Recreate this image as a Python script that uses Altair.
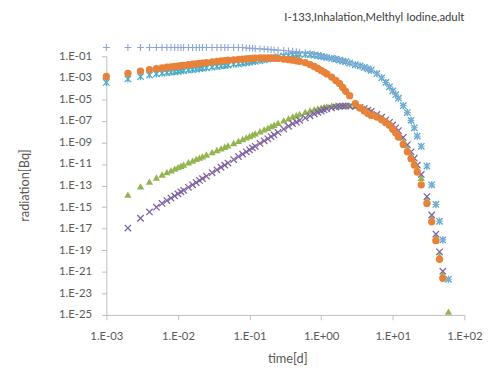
import altair as alt
import pandas as pd

# time grid [d]
time_d = [0.001, 0.002, 0.003, 0.004, 0.005, 0.006, 0.007, 0.008, 0.009,
          0.010, 0.011, 0.012, 0.014, 0.016, 0.018, 0.020, 0.022, 0.025, 0.030, 0.035, 0.040, 0.045, 0.050, 0.060, 0.070, 0.080, 0.090,
          0.10, 0.11, 0.12, 0.14, 0.16, 0.18, 0.20, 0.22, 0.25, 0.30, 0.35, 0.40, 0.45, 0.50, 0.60, 0.70, 0.80, 0.90,
          1.0, 1.1, 1.2, 1.4, 1.6, 1.8, 2.0, 2.2, 2.5, 3.0, 3.5, 4.0, 4.5, 5.0, 6.0, 7.0, 8.0, 9.0,
          10, 11, 12, 14, 16, 18, 20, 22, 25, 30, 35, 40, 45, 50, 60]

plus = [6.5e-1, 6.5e-1, 6.5e-1, 6.5e-1, 6.5e-1, 6.5e-1, 6.5e-1, 6.5e-1, 6.5e-1,
        6.5e-1, 6.5e-1, 6.5e-1, 6.5e-1, 6.5e-1, 6.5e-1, 6.5e-1, 6.5e-1, 6.5e-1, 6.5e-1, 6.5e-1, 6.5e-1, 6.5e-1, 6.5e-1, 6.5e-1, 6.5e-1, 6.5e-1, 5.9e-1,
        5.6e-1, 5.4e-1, 5.1e-1, 4.8e-1, 4.6e-1, 4.3e-1, 4.1e-1, 3.9e-1, 3.7e-1, 3.4e-1, 3.1e-1, 2.9e-1, 2.6e-1, 2.4e-1, 2.1e-1, 1.8e-1, 1.55e-1, 1.35e-1,
        1.12e-1, 9.3e-2, 7.9e-2, 6.3e-2, 5.4e-2, 4.4e-2, 3.6e-2, 3.1e-2, 2.3e-2, 1.62e-2, 1.26e-2, 9.1e-3, 6.8e-3, 5.0e-3, 2.4e-3, 1.0e-3, 3.7e-4, 1.45e-4,
        6.2e-5, 2.7e-5, 1.29e-5, 2.6e-6, 5.9e-7, 1.12e-7, 2.3e-8, 3.9e-9, 4.4e-10, 6.5e-12, 1.17e-13, 1.78e-15, 4.9e-17, 9.1e-19, 2.0e-22]

teal = [3.7e-4, 7.8e-4, 1.26e-3, 1.8e-3, 2.3e-3, 2.7e-3, 3.0e-3, 3.3e-3, 3.6e-3,
        3.9e-3, 4.3e-3, 4.7e-3, 5.2e-3, 5.9e-3, 6.5e-3, 7.1e-3, 7.8e-3, 8.5e-3, 1.0e-2, 1.12e-2, 1.26e-2, 1.38e-2, 1.5e-2, 1.8e-2, 2.0e-2, 2.3e-2, 2.5e-2,
        2.8e-2, 3.1e-2, 3.4e-2, 4.0e-2, 4.7e-2, 5.5e-2, 6.3e-2, 7.1e-2, 8.5e-2, 1.05e-1, 1.17e-1, 1.35e-1, 1.45e-1, 1.48e-1, 1.48e-1, 1.41e-1, 1.26e-1, 1.12e-1,
        9.8e-2, 8.7e-2, 7.6e-2, 6.3e-2, 5.4e-2, 4.4e-2, 3.6e-2, 3.1e-2, 2.3e-2, 1.62e-2, 1.26e-2, 9.1e-3, 6.8e-3, 5.0e-3, 2.4e-3, 1.0e-3, 3.7e-4, 1.45e-4,
        6.2e-5, 2.7e-5, 1.29e-5, 2.6e-6, 5.9e-7, 1.12e-7, 2.3e-8, 3.9e-9, 4.4e-10, 6.5e-12, 1.17e-13, 1.78e-15, 4.9e-17, 9.1e-19, 2.0e-22]

orange = [1.32e-3, 2.6e-3, 4.2e-3, 5.8e-3, 7.1e-3, 8.3e-3, 9.5e-3, 1.02e-2, 1.12e-2,
          1.23e-2, 1.32e-2, 1.45e-2, 1.62e-2, 1.82e-2, 2.0e-2, 2.2e-2, 2.3e-2, 2.6e-2, 3.0e-2, 3.4e-2, 3.6e-2, 4.0e-2, 4.3e-2, 4.7e-2, 5.2e-2, 5.5e-2, 5.8e-2,
          6.0e-2, 6.3e-2, 6.6e-2, 6.9e-2, 6.9e-2, 6.9e-2, 6.9e-2, 6.6e-2, 6.2e-2, 5.5e-2, 4.8e-2, 4.3e-2, 3.8e-2, 3.4e-2, 2.5e-2, 1.7e-2, 1.12e-2, 7.4e-3,
          4.8e-3, 3.4e-3, 2.3e-3, 1.17e-3, 5.6e-4, 3.0e-4, 1.29e-4, 5.6e-5, 2.2e-5, 4.1e-6, 1.58e-6, 8.3e-7, 4.9e-7, 3.2e-7, 2.3e-7, 1.26e-7, 6.9e-8, 4.0e-8,
          1.7e-8, 7.4e-9, 3.2e-9, 6.6e-10, 1.35e-10, 3.1e-11, 7.9e-12, 1.82e-12, 1.17e-13, 2.2e-15, 4.3e-17, 7.8e-19, 1.45e-20, 2.5e-22, None]

purple = [None, 1.15e-17, 9.3e-17, 3.6e-16, 9.8e-16, 2.2e-15, 4.1e-15, 6.9e-15, 1.1e-14,
          1.7e-14, 2.6e-14, 3.6e-14, 6.9e-14, 1.17e-13, 1.9e-13, 3.0e-13, 4.4e-13, 7.4e-13, 1.55e-12, 2.9e-12, 5.0e-12, 7.9e-12, 1.23e-11, 2.6e-11, 4.9e-11, 8.3e-11, 1.35e-10,
          2.1e-10, 3.1e-10, 4.4e-10, 8.1e-10, 1.41e-9, 2.2e-9, 3.5e-9, 5.0e-9, 8.5e-9, 1.74e-8, 3.2e-8, 5.5e-8, 7.6e-8, 1.12e-7, 1.9e-7, 3.0e-7, 4.5e-7, 6.2e-7,
          8.3e-7, 1.05e-6, 1.29e-6, 1.62e-6, 1.95e-6, 2.2e-6, 2.3e-6, 2.4e-6, 2.3e-6, 2.1e-6, 1.8e-6, 1.41e-6, 1.02e-6, 7.6e-7, 4.0e-7, 2.2e-7, 1.26e-7, 7.4e-8,
          4.2e-8, 2.3e-8, 1.26e-8, 2.9e-9, 6.0e-10, 1.35e-10, 3.5e-11, 7.9e-12, 1.07e-12, 9.5e-15, 1.86e-16, 3.2e-18, 7.2e-20, 1.15e-21, None]

green = [None, 1.45e-14, 8.3e-14, 2.3e-13, 5.6e-13, 1.07e-12, 1.74e-12, 2.6e-12, 3.8e-12,
         5.2e-12, 6.9e-12, 8.9e-12, 1.45e-11, 2.1e-11, 3.0e-11, 3.9e-11, 5.2e-11, 7.6e-11, 1.29e-10, 2.0e-10, 2.8e-10, 4.0e-10, 5.4e-10, 8.9e-10, 1.41e-9, 2.1e-9, 3.0e-9,
         4.0e-9, 5.4e-9, 6.9e-9, 1.1e-8, 1.66e-8, 2.3e-8, 3.3e-8, 4.4e-8, 6.6e-8, 1.12e-7, 1.74e-7, 2.6e-7, 3.4e-7, 4.5e-7, 6.8e-7, 9.3e-7, 1.2e-6, 1.48e-6,
         1.74e-6, 2.0e-6, 2.2e-6, 2.5e-6, 2.7e-6, 2.8e-6, 2.9e-6, 2.9e-6, 2.75e-6, 2.5e-6, 2.0e-6, 1.48e-6, 1.02e-6, 7.2e-7, 3.6e-7, 1.86e-7, 9.5e-8, 4.9e-8,
         2.3e-8, 1.12e-8, 6.0e-9, 1.38e-9, 2.8e-10, 6.5e-11, 1.66e-11, 3.8e-12, 5.1e-13, 5.0e-15, 9.3e-17, 1.7e-18, 3.2e-20, 5.9e-22, 2.0e-25]

x_ticks = [1e-3, 1e-2, 1e-1, 1e0, 1e1, 1e2]
y_ticks = [1e-25, 1e-23, 1e-21, 1e-19, 1e-17, 1e-15, 1e-13, 1e-11, 1e-9, 1e-7, 1e-5, 1e-3, 1e-1]

rows = []
for name, vals in [("green", green), ("purple", purple), ("teal", teal), ("orange", orange), ("plus", plus)]:
    for t, v in zip(time_d, vals):
        if v is not None:
            rows.append({"series": name, "t": t, "v": v})
df = pd.DataFrame(rows)

FONT = "Lato"
LBL = "#595959"
AX = "#BFBFBF"
exp_expr = "round(log(datum.value)/LN10)"
label_expr = ("'1.E' + (" + exp_expr + " < 0 ? '-' : '+') + (abs(" + exp_expr + ") < 10 ? '0' : '') + abs(" + exp_expr + ")")

x_axis = alt.Axis(values=x_ticks, labelExpr=label_expr, grid=False, title="time[d]",
                  domainColor=AX, tickColor=AX, tickSize=5, labelPadding=11,
                  labelColor=LBL, labelFont=FONT, labelFontSize=11.5, labelFlush=False,
                  titleColor=LBL, titleFont=FONT, titleFontSize=13, titleFontWeight="normal",
                  titleX=184, titleY=44, titleBaseline="middle")
y_axis = alt.Axis(values=y_ticks, labelExpr=label_expr, grid=False, title="radiation[Bq]",
                  domainColor=AX, tickColor=AX, tickSize=5, labelPadding=10,
                  labelColor=LBL, labelFont=FONT, labelFontSize=11.5, labelFlush=False,
                  titleColor=LBL, titleFont=FONT, titleFontSize=13, titleFontWeight="normal",
                  titleX=-83, titleY=131, titleAngle=270, titleBaseline="middle", titleAlign="center")

base = alt.Chart(df).encode(
    x=alt.X("t:Q", scale=alt.Scale(type="log", domain=[1e-3, 1e2], nice=False), axis=x_axis),
    y=alt.Y("v:Q", scale=alt.Scale(type="log", domain=[1e-25, 1e-1], nice=False), axis=y_axis),
)

PLUS = "M-1,0L1,0M0,-1L0,1"
CROSS = "M-1,-1L1,1M-1,1L1,-1"
STAR = "M-1,-1L1,1M-1,1L1,-1M0,-1.1L0,1.1"

l_green = base.transform_filter(alt.datum.series == "green").mark_point(
    shape="triangle-up", filled=True, color="#92B552", size=55, opacity=1, clip=False)
l_purple = base.transform_filter(alt.datum.series == "purple").mark_point(
    shape=CROSS, filled=False, color="#7E62A1", size=42, strokeWidth=1.3, opacity=1, clip=False)
l_teal = base.transform_filter(alt.datum.series == "teal").mark_point(
    shape=STAR, filled=False, color="#4BACC6", size=42, strokeWidth=1.3, opacity=1, clip=False)
l_orange = base.transform_filter(alt.datum.series == "orange").mark_point(
    shape="circle", filled=True, color="#E8823A", size=55, opacity=1, clip=False)
l_plus = base.transform_filter(alt.datum.series == "plus").mark_point(
    shape=PLUS, filled=False, color="#8CA5D7", size=48, strokeWidth=1.1, opacity=1, clip=False)

chart = alt.layer(l_green, l_purple, l_teal, l_orange, l_plus).properties(
    width=364, height=263,
    autosize=alt.AutoSizeParams(type="none"),
    padding={"left": 100, "top": 46, "right": 22, "bottom": 55},
    title=alt.TitleParams("I-133,Inhalation,Melthyl Iodine,adult", anchor="end", frame="group",
                          font=FONT, fontSize=11.5, fontWeight="normal", color="#404040", offset=19),
).configure_view(stroke=None)

chart.save("out.html", embed_options={"renderer": "svg", "actions": False})
